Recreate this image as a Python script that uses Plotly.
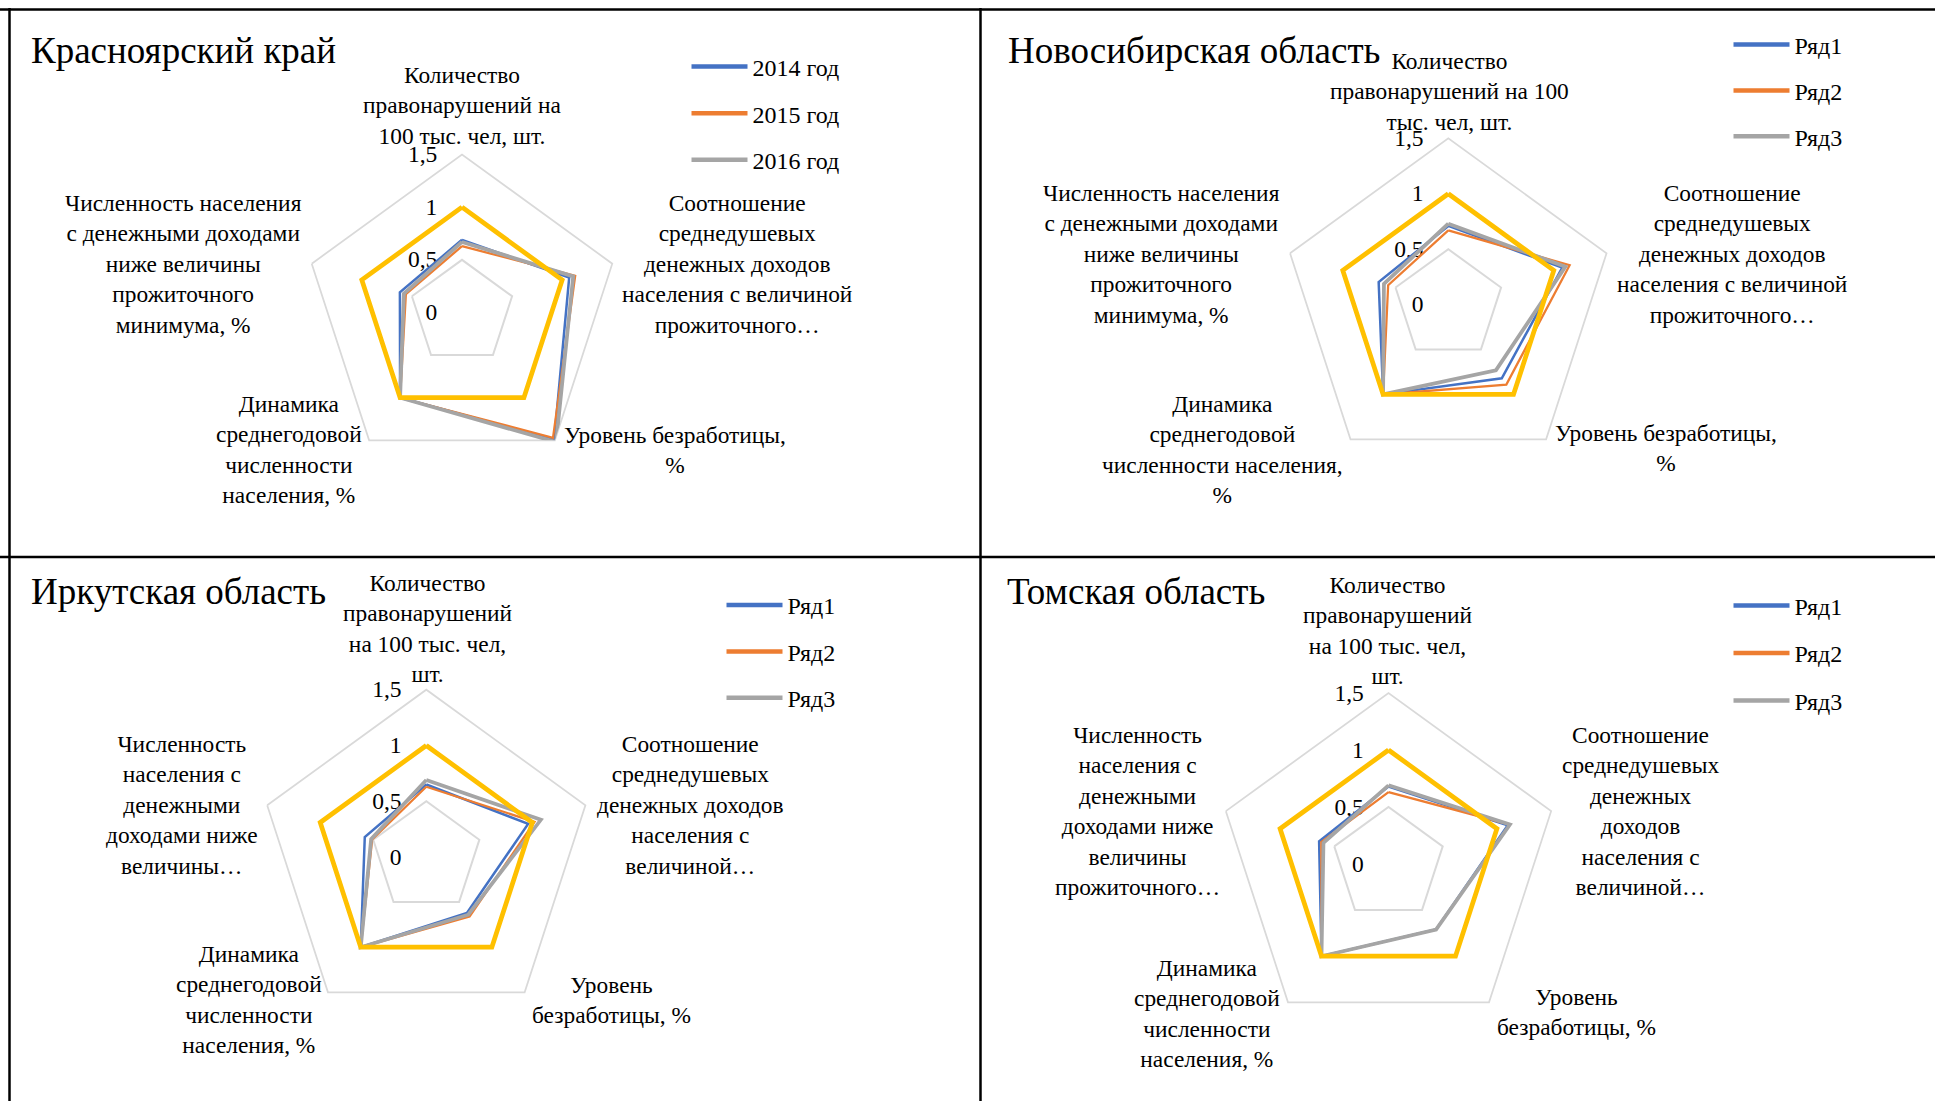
import plotly.graph_objects as go

W, H = 1935, 1101
FONT = "Liberation Serif"

# ---------------- data ----------------
categories = [
    "Количество правонарушений на 100 тыс. чел, шт.",
    "Соотношение среднедушевых денежных доходов населения с величиной прожиточного минимума",
    "Уровень безработицы, %",
    "Динамика среднегодовой численности населения, %",
    "Численность населения с денежными доходами ниже величины прожиточного минимума, %",
]

regions = ["Красноярский край", "Новосибирская область", "Иркутская область", "Томская область"]

series_names_krsk = ["2014 год", "2015 год", "2016 год"]
series_names_other = ["Ряд1", "Ряд2", "Ряд3"]

krsk_s1 = [0.69, 1.07, 1.49, 1.00, 0.62]
krsk_s2 = [0.63, 1.13, 1.47, 1.00, 0.56]
krsk_s3 = [0.67, 1.11, 1.52, 1.00, 0.58]

nsk_s1 = [0.71, 1.08, 0.82, 1.00, 0.66]
nsk_s2 = [0.67, 1.15, 0.89, 1.00, 0.57]
nsk_s3 = [0.73, 1.11, 0.73, 1.00, 0.61]

irk_s1 = [0.65, 0.96, 0.62, 1.00, 0.58]
irk_s2 = [0.63, 1.02, 0.66, 1.00, 0.51]
irk_s3 = [0.69, 1.08, 0.64, 1.00, 0.52]

tomsk_s1 = [0.68, 1.10, 0.71, 1.00, 0.64]
tomsk_s2 = [0.63, 1.12, 0.71, 1.00, 0.62]
tomsk_s3 = [0.69, 1.12, 0.71, 1.00, 0.60]

benchmark = [1.0, 1.0, 1.0, 1.0, 1.0]

radial_tickvals = [0, 0.5, 1, 1.5]
radial_ticktext = ["0", "0,5", "1", "1,5"]

# displayed (wrapped) category labels per panel
labels_krsk = [
    "Количество<br>правонарушений на<br>100 тыс. чел, шт.",
    "Соотношение<br>среднедушевых<br>денежных доходов<br>населения с величиной<br>прожиточного…",
    "Уровень безработицы,<br>%",
    "Динамика<br>среднегодовой<br>численности<br>населения, %",
    "Численность населения<br>с денежными доходами<br>ниже величины<br>прожиточного<br>минимума, %",
]
labels_nsk = [
    "Количество<br>правонарушений на 100<br>тыс. чел, шт.",
    "Соотношение<br>среднедушевых<br>денежных доходов<br>населения с величиной<br>прожиточного…",
    "Уровень безработицы,<br>%",
    "Динамика<br>среднегодовой<br>численности населения,<br>%",
    "Численность населения<br>с денежными доходами<br>ниже величины<br>прожиточного<br>минимума, %",
]
labels_irk = [
    "Количество<br>правонарушений<br>на 100 тыс. чел,<br>шт.",
    "Соотношение<br>среднедушевых<br>денежных доходов<br>населения с<br>величиной…",
    "Уровень<br>безработицы, %",
    "Динамика<br>среднегодовой<br>численности<br>населения, %",
    "Численность<br>населения с<br>денежными<br>доходами ниже<br>величины…",
]
labels_tomsk = [
    "Количество<br>правонарушений<br>на 100 тыс. чел,<br>шт.",
    "Соотношение<br>среднедушевых<br>денежных<br>доходов<br>населения с<br>величиной…",
    "Уровень<br>безработицы, %",
    "Динамика<br>среднегодовой<br>численности<br>населения, %",
    "Численность<br>населения с<br>денежными<br>доходами ниже<br>величины<br>прожиточного…",
]

# ---------------- styles / layout geometry (pixels) ----------------
colors = ["#4472C4", "#ED7D31", "#A5A5A5"]
widths = [2.5, 2.25, 3.75]
legend_line_width = 4.5
bench_color = "#FFC000"
bench_width = 4.75

panels = [
    dict(title=regions[0], names=series_names_krsk, series=[krsk_s1, krsk_s2, krsk_s3],
         labels=labels_krsk, cx=462, cy=312.5, R=158,
         label_pos=[(462, 106), (737, 264), (675, 450), (289, 449), (183, 264)],
         title_pos=(29, 50), legend_pos=(686.5, 44.5), legend_gap=12.4),
    dict(title=regions[1], names=series_names_other, series=[nsk_s1, nsk_s2, nsk_s3],
         labels=labels_nsk, cx=1448.3, cy=304.7, R=166.4,
         label_pos=[(1449, 91), (1732, 254), (1666, 448), (1222, 449), (1161, 254)],
         title_pos=(1006, 50), legend_pos=(1728.5, 22.5), legend_gap=11.6),
    dict(title=regions[2], names=series_names_other, series=[irk_s1, irk_s2, irk_s3],
         labels=labels_irk, cx=426.3, cy=857, R=167.3,
         label_pos=[(427, 628), (690, 805), (611, 1000), (249, 999), (182, 805)],
         title_pos=(29, 591), legend_pos=(721.5, 583), legend_gap=12.1),
    dict(title=regions[3], names=series_names_other, series=[tomsk_s1, tomsk_s2, tomsk_s3],
         labels=labels_tomsk, cx=1388.5, cy=864, R=171,
         label_pos=[(1387, 630), (1640, 811), (1576, 1012), (1207, 1013), (1137, 811)],
         title_pos=(1005, 591), legend_pos=(1728.5, 583.5), legend_gap=13.3),
]

fig = go.Figure()
layout_update = {}
annotations = []

for i, p in enumerate(panels):
    pid = "polar" if i == 0 else f"polar{i + 1}"
    lid = "legend" if i == 0 else f"legend{i + 1}"
    theta = categories + [categories[0]]
    for k in range(3):
        vals = p["series"][k]
        fig.add_trace(go.Scatterpolar(
            r=vals + [vals[0]], theta=theta, mode="lines",
            name=p["names"][k], subplot=pid, showlegend=False,
            line=dict(color=colors[k], width=widths[k]),
        ))
    fig.add_trace(go.Scatterpolar(
        r=benchmark + [benchmark[0]], theta=theta, mode="lines",
        name="Эталон", subplot=pid, showlegend=False,
        line=dict(color=bench_color, width=bench_width),
    ))
    # legend entries (drawn thicker, as in the original legend)
    for k in range(3):
        fig.add_trace(go.Scatterpolar(
            r=[None], theta=[categories[0]], mode="lines",
            name=p["names"][k], subplot=pid, legend=lid, legendgroup=f"{i}_{k}",
            line=dict(color=colors[k], width=legend_line_width),
        ))

    cx, cy, R = p["cx"], p["cy"], p["R"]
    layout_update[pid] = dict(
        domain=dict(x=[(cx - R) / W, (cx + R) / W], y=[1 - (cy + R) / H, 1 - (cy - R) / H]),
        gridshape="linear",
        bgcolor="rgba(0,0,0,0)",
        radialaxis=dict(
            range=[0, 1.5], tickvals=radial_tickvals, ticktext=radial_ticktext,
            angle=90, side="counterclockwise", tickangle=90, showline=False,
            ticks="outside", ticklen=16, tickcolor="rgba(0,0,0,0)",
            gridcolor="#D9D9D9", gridwidth=1.75, layer="below traces",
            tickfont=dict(family=FONT, size=23.5, color="#000000"),
        ),
        angularaxis=dict(
            categoryorder="array", categoryarray=categories,
            rotation=90, direction="clockwise", showticklabels=False, ticks="",
            showgrid=False, showline=True, linecolor="#D9D9D9", linewidth=1.75,
            layer="below traces",
        ),
    )
    lx, ly = p["legend_pos"]
    layout_update[lid] = dict(
        x=lx / W, y=1 - ly / H, xanchor="left", yanchor="top",
        font=dict(family=FONT, size=24, color="#000000"),
        bgcolor="rgba(0,0,0,0)", traceorder="grouped", tracegroupgap=p["legend_gap"],
        itemwidth=56,
    )
    for lbl, (x, y) in zip(p["labels"], p["label_pos"]):
        annotations.append(dict(
            text=lbl, x=x / W, y=1 - y / H, xref="paper", yref="paper",
            xanchor="center", yanchor="middle", align="center", showarrow=False,
            font=dict(family=FONT, size=23.4, color="#000000"),
        ))
    tx, ty = p["title_pos"]
    annotations.append(dict(
        text=p["title"], x=tx / W, y=1 - ty / H, xref="paper", yref="paper",
        xanchor="left", yanchor="middle", showarrow=False,
        font=dict(family=FONT, size=37, color="#000000"),
    ))

# table borders
border = dict(color="#000000", width=2.5)
shapes = [
    dict(type="line", xref="paper", yref="paper", x0=0, x1=1, y0=1 - 9.5 / H, y1=1 - 9.5 / H, line=border),
    dict(type="line", xref="paper", yref="paper", x0=0, x1=1, y0=1 - 557 / H, y1=1 - 557 / H, line=border),
    dict(type="line", xref="paper", yref="paper", x0=9.5 / W, x1=9.5 / W, y0=0, y1=1 - 8 / H, line=border),
    dict(type="line", xref="paper", yref="paper", x0=980.5 / W, x1=980.5 / W, y0=0, y1=1 - 8 / H, line=border),
]

fig.update_layout(
    width=W, height=H, margin=dict(l=0, r=0, t=0, b=0),
    paper_bgcolor="#FFFFFF", plot_bgcolor="#FFFFFF",
    font=dict(family=FONT, size=23, color="#000000"),
    annotations=annotations, shapes=shapes,
    **layout_update,
)

fig.write_html("out.html", config={"displayModeBar": False},
               post_script="document.body.style.margin='0';")
